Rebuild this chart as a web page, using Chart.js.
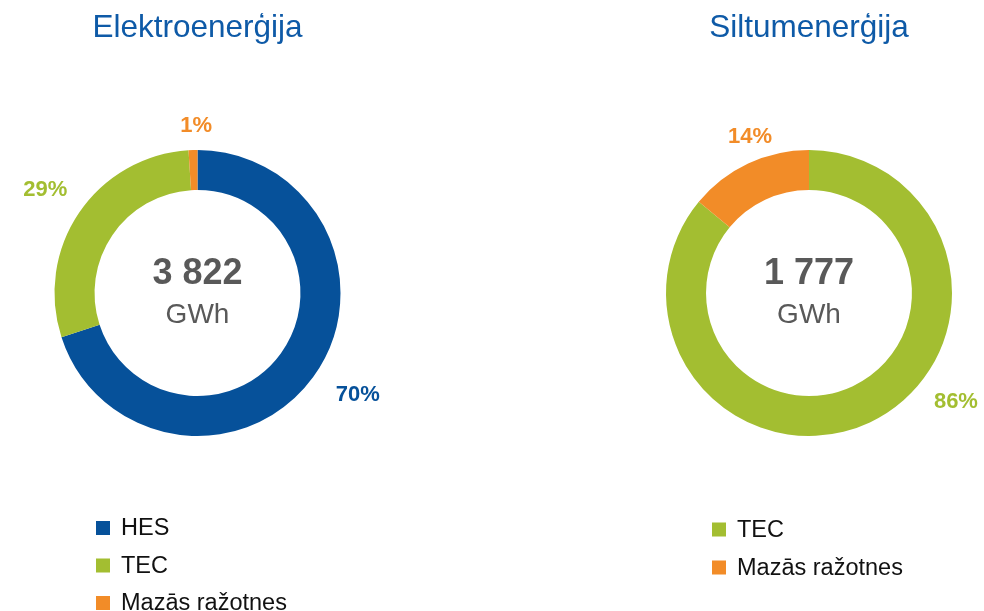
<!DOCTYPE html>
<html>
<head>
<meta charset="utf-8">
<script src="https://cdn.jsdelivr.net/npm/chart.js@4.4.0/dist/chart.umd.min.js"></script>
<style>
  html, body { margin: 0; padding: 0; background: #fff; }
  #wrap { position: relative; width: 984px; height: 611px; overflow: hidden; }
  canvas { position: absolute; left: 0; top: 0; }
</style>
</head>
<body>
<div id="wrap">
  <canvas id="c1" width="984" height="611"></canvas>
  <canvas id="c2" width="984" height="611"></canvas>
</div>
<script>
// ---- data ----
const elTitle = 'Elektroenerģija';
const elCategories = ['HES', 'TEC', 'Mazās ražotnes'];
const elValues = [70, 29, 1];
const elTotal = '3 822';

const heatTitle = 'Siltumenerģija';
const heatCategories = ['TEC', 'Mazās ražotnes'];
const heatValues = [86, 14];
const heatTotal = '1 777';

const unit = 'GWh';

// ---- styles ----
const BLUE = '#06519A', GREEN = '#A3BE31', ORANGE = '#F28C28';
const FONT = "'Liberation Sans', Arial, sans-serif";

function makeChart(id, cfg) {
  const plugin = {
    id: 'decor_' + id,
    afterDraw(chart) {
      const ctx = chart.ctx;
      const meta = chart.getDatasetMeta(0);
      const arc0 = meta.data[0];
      const cx = arc0.x, cy = arc0.y;
      ctx.save();
      // title
      ctx.fillStyle = '#0E5AA7';
      ctx.font = '31.5px ' + FONT;
      ctx.textAlign = 'center';
      ctx.textBaseline = 'middle';
      ctx.fillText(cfg.title, cx, 28);
      // center text
      ctx.fillStyle = '#595959';
      ctx.font = 'bold 36px ' + FONT;
      ctx.fillText(cfg.total, cx, 274);
      ctx.font = '28px ' + FONT;
      ctx.fillText(unit, cx, 315);
      // percentage labels
      ctx.font = 'bold 22px ' + FONT;
      meta.data.forEach((arc, i) => {
        const mid = (arc.startAngle + arc.endAngle) / 2 + cfg.labelShift[i] * Math.PI / 180;
        const d = cfg.labelDist[i];
        const v = chart.data.datasets[0].data[i];
        ctx.fillStyle = cfg.colors[i];
        ctx.fillText(v + '%', cx + Math.cos(mid) * d, cy + Math.sin(mid) * d);
      });
      // legend
      ctx.textAlign = 'left';
      ctx.font = '23.5px ' + FONT;
      chart.data.labels.forEach((lab, i) => {
        const y = cfg.legendY0 + i * cfg.legendStep;
        ctx.fillStyle = cfg.colors[i];
        ctx.fillRect(cfg.legendX, y - 7, 14, 14);
        ctx.fillStyle = '#111111';
        ctx.fillText(lab, cfg.legendX + 25, y + 1);
      });
      ctx.restore();
    }
  };
  return new Chart(document.getElementById(id), {
    type: 'doughnut',
    data: {
      labels: cfg.labels,
      datasets: [{
        data: cfg.values,
        backgroundColor: cfg.colors,
        borderWidth: 0
      }]
    },
    options: {
      responsive: false,
      animation: false,
      cutout: '72%',
      layout: { padding: cfg.padding },
      plugins: { legend: { display: false }, tooltip: { enabled: false } }
    },
    plugins: [plugin]
  });
}

makeChart('c1', {
  title: elTitle, total: elTotal, labels: elCategories, values: elValues,
  colors: [BLUE, GREEN, ORANGE],
  padding: { left: 54, right: 643, top: 150, bottom: 175 },
  labelDist: [190, 184, 167], labelShift: [-3.5, 0, 1.3],
  legendX: 96, legendY0: 528, legendStep: 37.5
});
makeChart('c2', {
  title: heatTitle, total: heatTotal, labels: heatCategories, values: heatValues,
  colors: [GREEN, ORANGE],
  padding: { left: 665.5, right: 31.5, top: 150, bottom: 175 },
  labelDist: [183, 167], labelShift: [-28.2, 4.5],
  legendX: 712, legendY0: 529.5, legendStep: 38
});
</script>
</body>
</html>
